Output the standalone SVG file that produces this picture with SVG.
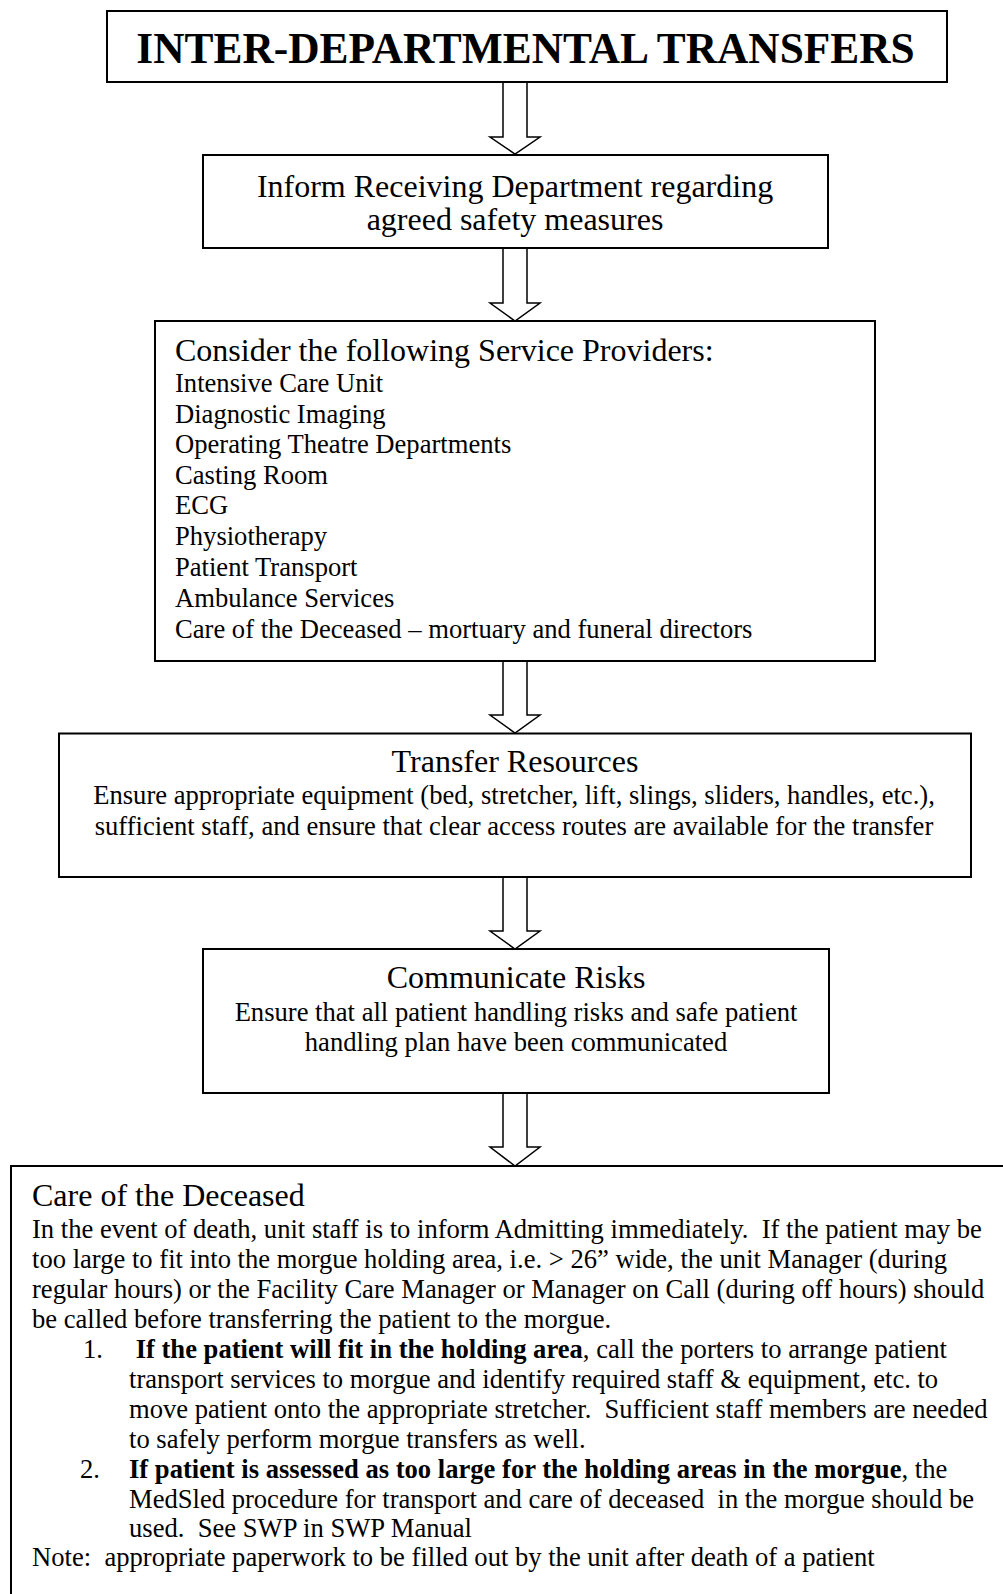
<svg xmlns="http://www.w3.org/2000/svg" width="1003" height="1594" viewBox="0 0 1003 1594">
<style>
.box{fill:#fff;stroke:#000;stroke-width:2}
.arr{fill:#fff;stroke:#000;stroke-width:1.5;stroke-linejoin:miter}
text{font-family:"Liberation Serif","Times New Roman",serif;fill:#000;white-space:pre}
.title{font-size:43.4px;font-weight:bold;text-anchor:middle}
.h{font-size:32px}
.b{font-size:26.6px}
.c{text-anchor:middle}
.bold{font-weight:bold}
</style>
<rect width="1003" height="1594" fill="#fff"/>
<g id="connectors">
<polygon class="arr" points="503,82 527,82 527,137 540,137 515,154 490,137 503,137"/>
<polygon class="arr" points="503,248 527,248 527,303 540,303 515,321 490,303 503,303"/>
<polygon class="arr" points="503,661 527,661 527,715 540,715 515,733 490,715 503,715"/>
<polygon class="arr" points="503,877 527,877 527,931 540,931 515,949 490,931 503,931"/>
<polygon class="arr" points="503,1093 527,1093 527,1147 540,1147 515,1166 490,1147 503,1147"/>
</g>
<g id="title">
<rect class="box" x="107" y="11" width="840" height="71"/>
<text class="title" x="525.5" y="63">INTER-DEPARTMENTAL TRANSFERS</text>
</g>
<g id="inform">
<rect class="box" x="203" y="155" width="625" height="93"/>
<text class="h c" x="515" y="196.7">Inform Receiving Department regarding</text>
<text class="h c" x="515" y="230">agreed safety measures</text>
</g>
<g id="providers">
<rect class="box" x="155" y="321" width="720" height="340"/>
<text class="h" x="175" y="361">Consider the following Service Providers:</text>
<text class="b" x="175" y="392.3">Intensive Care Unit</text>
<text class="b" x="175" y="422.7">Diagnostic Imaging</text>
<text class="b" x="175" y="453.3">Operating Theatre Departments</text>
<text class="b" x="175" y="484">Casting Room</text>
<text class="b" x="175" y="514.3">ECG</text>
<text class="b" x="175" y="545">Physiotherapy</text>
<text class="b" x="175" y="575.7">Patient Transport</text>
<text class="b" x="175" y="606.7">Ambulance Services</text>
<text class="b" x="175" y="637.7">Care of the Deceased – mortuary and funeral directors</text>
</g>
<g id="resources">
<rect class="box" x="59" y="733.5" width="912" height="143.5"/>
<text class="h c" x="515" y="771.7">Transfer Resources</text>
<text class="b c" x="514" y="804">Ensure appropriate equipment (bed, stretcher, lift, slings, sliders, handles, etc.),</text>
<text class="b c" x="514" y="835">sufficient staff, and ensure that clear access routes are available for the transfer</text>
</g>
<g id="risks">
<rect class="box" x="203" y="949" width="626" height="144"/>
<text class="h c" x="516" y="987.7">Communicate Risks</text>
<text class="b c" x="516" y="1021">Ensure that all patient handling risks and safe patient</text>
<text class="b c" x="516" y="1051">handling plan have been communicated</text>
</g>
<g id="deceased">
<rect class="box" x="11" y="1166" width="1000" height="440"/>
<text class="h" x="32" y="1206">Care of the Deceased</text>
<text class="b" x="32" y="1237.5">In the event of death, unit staff is to inform Admitting immediately.  If the patient may be</text>
<text class="b" x="32" y="1267.5">too large to fit into the morgue holding area, i.e. &gt; 26” wide, the unit Manager (during</text>
<text class="b" x="32" y="1297.5">regular hours) or the Facility Care Manager or Manager on Call (during off hours) should</text>
<text class="b" x="32" y="1327.5">be called before transferring the patient to the morgue.</text>
<text class="b" x="83" y="1357.5">1.</text>
<text class="b" x="129" y="1357.5"> <tspan class="bold">If the patient will fit in the holding area</tspan>, call the porters to arrange patient</text>
<text class="b" x="129" y="1387.5">transport services to morgue and identify required staff &amp; equipment, etc. to</text>
<text class="b" x="129" y="1417.5">move patient onto the appropriate stretcher.  Sufficient staff members are needed</text>
<text class="b" x="129" y="1447.5">to safely perform morgue transfers as well.</text>
<text class="b" x="80" y="1477.5">2.</text>
<text class="b" x="129" y="1477.5"><tspan class="bold">If patient is assessed as too large for the holding areas in the morgue</tspan>, the</text>
<text class="b" x="129" y="1507.5">MedSled procedure for transport and care of deceased  in the morgue should be</text>
<text class="b" x="129" y="1537">used.  See SWP in SWP Manual</text>
<text class="b" x="32" y="1566">Note:  appropriate paperwork to be filled out by the unit after death of a patient</text>
</g>
</svg>
